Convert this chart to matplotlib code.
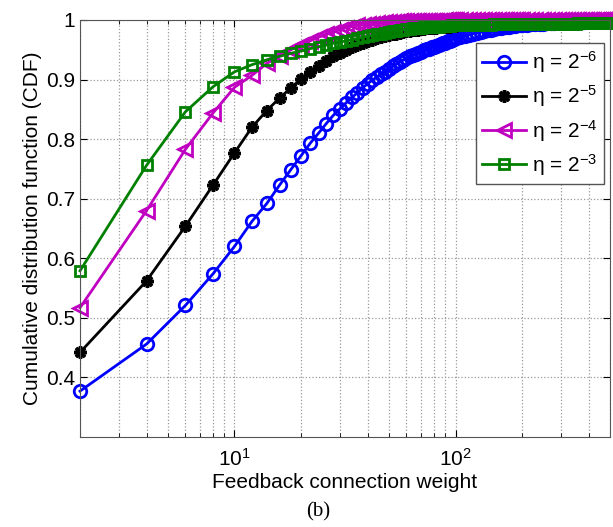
import numpy as np
import matplotlib
matplotlib.use('Agg')
import matplotlib.pyplot as plt

plt.rcParams['font.family'] = ['Liberation Sans', 'DejaVu Sans']
plt.rcParams['mathtext.fontset'] = 'custom'
plt.rcParams['mathtext.rm'] = 'Liberation Sans'
plt.rcParams['mathtext.it'] = 'Liberation Sans:italic'

# feedback connection weight (sampled points)
weight = list(range(2, 101, 2)) + list(range(105, 201, 5)) + list(range(210, 501, 10))

cdf_eta6 = [0.377, 0.456, 0.521, 0.574, 0.620, 0.662, 0.692, 0.723, 0.749, 0.772,
            0.793, 0.810, 0.826, 0.840, 0.851, 0.861, 0.870, 0.878, 0.886, 0.893,
            0.899, 0.904, 0.909, 0.913, 0.918, 0.922, 0.926, 0.930, 0.933, 0.936,
            0.939, 0.941, 0.943, 0.945, 0.947, 0.949, 0.951, 0.952, 0.954, 0.955,
            0.957, 0.958, 0.960, 0.961, 0.962, 0.964, 0.965, 0.967, 0.968, 0.969,
            0.971, 0.973, 0.975, 0.977, 0.979, 0.980, 0.982, 0.983, 0.984, 0.985,
            0.986, 0.987, 0.988, 0.989, 0.989, 0.990, 0.990, 0.991, 0.991, 0.992,
            0.992, 0.993, 0.993, 0.994, 0.994, 0.995, 0.995, 0.995, 0.996, 0.996,
            0.996, 0.996, 0.997, 0.997, 0.997, 0.997, 0.997, 0.997, 0.998, 0.998,
            0.998, 0.998, 0.998, 0.998, 0.998, 0.999, 0.999, 0.999, 0.999, 0.999]

cdf_eta5 = [0.442, 0.562, 0.654, 0.723, 0.777, 0.820, 0.848, 0.869, 0.886, 0.901,
            0.913, 0.923, 0.932, 0.940, 0.945, 0.950, 0.954, 0.958, 0.961, 0.964,
            0.966, 0.969, 0.971, 0.973, 0.974, 0.976, 0.977, 0.979, 0.980, 0.981,
            0.982, 0.983, 0.983, 0.984, 0.985, 0.985, 0.986, 0.986, 0.987, 0.987,
            0.987, 0.988, 0.988, 0.989, 0.989, 0.989, 0.989, 0.990, 0.990, 0.990,
            0.991, 0.991, 0.992, 0.992, 0.992, 0.993, 0.993, 0.993, 0.994, 0.994,
            0.994, 0.994, 0.995, 0.995, 0.995, 0.995, 0.995, 0.996, 0.996, 0.996,
            0.996, 0.996, 0.997, 0.997, 0.997, 0.997, 0.997, 0.997, 0.997, 0.998,
            0.998, 0.998, 0.998, 0.998, 0.998, 0.998, 0.998, 0.998, 0.998, 0.999,
            0.999, 0.999, 0.999, 0.999, 0.999, 0.999, 0.999, 0.999, 0.999, 0.999]

cdf_eta4 = [0.517, 0.680, 0.783, 0.844, 0.887, 0.907, 0.927, 0.940, 0.950, 0.958,
            0.965, 0.971, 0.976, 0.980, 0.984, 0.987, 0.989, 0.991, 0.992, 0.993,
            0.994, 0.995, 0.995, 0.996, 0.996, 0.997, 0.997, 0.998, 0.998, 0.998,
            0.998, 0.998, 0.999, 0.999, 0.999, 0.999, 0.999, 0.999, 0.999, 0.999,
            0.999, 0.999, 0.999, 0.999, 1.000, 1.000, 1.000, 1.000, 1.000, 1.000,
            1.000, 1.000, 1.000, 1.000, 1.000, 1.000, 1.000, 1.000, 1.000, 1.000,
            1.000, 1.000, 1.000, 1.000, 1.000, 1.000, 1.000, 1.000, 1.000, 1.000,
            1.000, 1.000, 1.000, 1.000, 1.000, 1.000, 1.000, 1.000, 1.000, 1.000,
            1.000, 1.000, 1.000, 1.000, 1.000, 1.000, 1.000, 1.000, 1.000, 1.000,
            1.000, 1.000, 1.000, 1.000, 1.000, 1.000, 1.000, 1.000, 1.000, 1.000]

cdf_eta3 = [0.579, 0.756, 0.846, 0.888, 0.913, 0.925, 0.933, 0.939, 0.944, 0.948,
            0.952, 0.955, 0.958, 0.961, 0.963, 0.965, 0.967, 0.969, 0.971, 0.973,
            0.974, 0.976, 0.977, 0.979, 0.980, 0.981, 0.982, 0.983, 0.984, 0.985,
            0.985, 0.986, 0.986, 0.987, 0.987, 0.988, 0.988, 0.988, 0.989, 0.989,
            0.989, 0.989, 0.990, 0.990, 0.990, 0.990, 0.990, 0.991, 0.991, 0.991,
            0.991, 0.991, 0.991, 0.992, 0.992, 0.992, 0.992, 0.992, 0.992, 0.993,
            0.993, 0.993, 0.993, 0.993, 0.993, 0.993, 0.993, 0.993, 0.993, 0.993,
            0.993, 0.993, 0.993, 0.994, 0.994, 0.994, 0.994, 0.994, 0.994, 0.994,
            0.994, 0.994, 0.994, 0.994, 0.994, 0.995, 0.995, 0.995, 0.995, 0.995,
            0.995, 0.995, 0.995, 0.995, 0.995, 0.995, 0.995, 0.995, 0.995, 0.995]

labels = ['η = 2$^{-6}$', 'η = 2$^{-5}$', 'η = 2$^{-4}$', 'η = 2$^{-3}$']

fig = plt.figure(figsize=(6.13, 5.27), dpi=100)
ax = fig.add_axes([80/613, 1-437/527, 530/613, 417/527])

ax.semilogx(weight, cdf_eta6, color='#0000ff', lw=2, marker='o', ms=9, mew=2, mfc='none',
            label=labels[0], clip_on=False)
ax.semilogx(weight, cdf_eta5, color='k', lw=2, marker=(8, 2, 0), ms=9, mew=2.5,
            label=labels[1], clip_on=False)
ax.semilogx(weight, cdf_eta4, color='#c000c0', lw=2, marker='<', ms=9.5, mew=2, mfc='none',
            label=labels[2], clip_on=False)
ax.semilogx(weight, cdf_eta3, color='#008000', lw=2, marker='s', ms=7, mew=2, mfc='none',
            label=labels[3], clip_on=False)

ax.set_xlim(2, 500)
ax.set_ylim(0.3, 1)
ax.set_yticks([0.4, 0.5, 0.6, 0.7, 0.8, 0.9, 1])
ax.set_yticklabels(['0.4', '0.5', '0.6', '0.7', '0.8', '0.9', '1'])

ax.grid(True, which='major', linestyle=':', color='#999999', lw=0.9)
ax.grid(True, which='minor', axis='x', linestyle=':', color='#999999', lw=0.9)
ax.tick_params(which='both', direction='in', top=True, right=True, labelsize=15)
ax.tick_params(which='major', length=5)
ax.tick_params(which='minor', length=3)
ax.tick_params(axis='x', pad=8)
for s in ax.spines.values():
    s.set_color('#555555')

ax.set_xlabel('Feedback connection weight', fontsize=15, labelpad=2)
ax.set_ylabel('Cumulative distribution function (CDF)', fontsize=15, labelpad=3)

leg = ax.legend(loc='upper right', bbox_to_anchor=(0.988, 0.945), borderaxespad=0,
                fontsize=15, fancybox=False, framealpha=1, edgecolor='#555555',
                handlelength=2.1, handletextpad=0.3, labelspacing=0.4, borderpad=0.3)
leg.set_zorder(5)

fig.text(318/613, 1-512/527, '(b)', fontsize=15, ha='center', va='center',
         family=['Liberation Serif', 'DejaVu Serif'])

fig.savefig('out.png', dpi=100)
